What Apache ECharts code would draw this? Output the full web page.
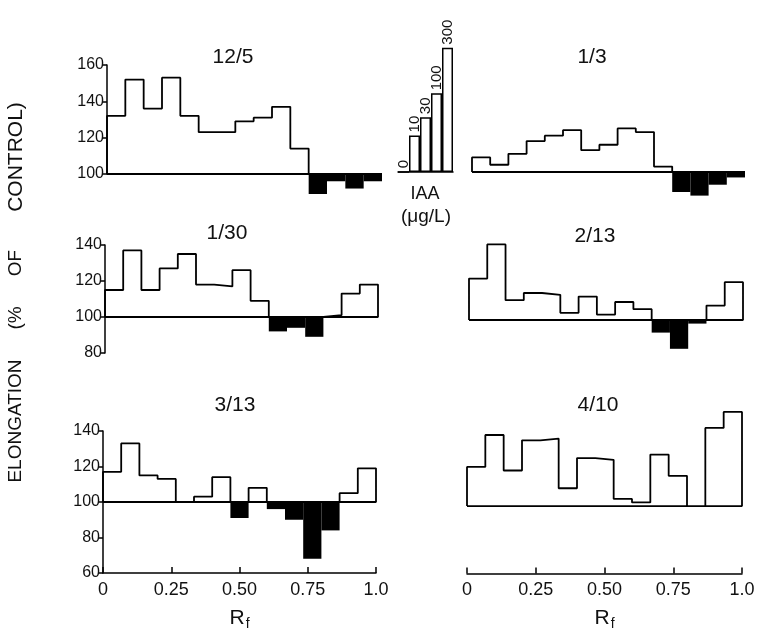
<!DOCTYPE html>
<html>
<head>
<meta charset="utf-8">
<script src="https://cdn.jsdelivr.net/npm/echarts@6/dist/echarts.min.js"></script>
<style>
html, body { margin: 0; padding: 0; background: #fff; }
#chart { width: 759px; height: 638px; }
</style>
</head>
<body>
<div id="chart"></div>
<script>
// elongation (% of control) for 15 equal Rf zones, 0 -> 1.0
var elong_12_5 = [132, 152, 136, 153, 132, 123, 123, 129, 131, 137, 114, 89, 96, 92, 96];
var elong_1_3  = [108, 104, 110, 117, 120, 123, 112, 115, 124, 122, 103, 89, 87, 93, 97];
var elong_1_30 = [115, 137, 115, 127, 135, 118, 117, 126, 109, 92, 94, 89, 101, 113, 118];
var elong_2_13 = [123, 142, 111, 115, 114, 104, 113, 103, 110, 106, 93, 84, 98, 108, 121];
var elong_3_13 = [117, 133, 115, 113, 100, 103, 114, 91, 108, 96, 90, 68, 84, 105, 119];
var elong_4_10 = [122, 140, 120, 137, 138, 110, 127, 126, 104, 102, 129, 117, 100, 144, 153];

var panelTitles = ['12/5', '1/3', '1/30', '2/13', '3/13', '4/10'];
var rfTicks = ['0', '0.25', '0.50', '0.75', '1.0'];

// IAA standard curve inset
var iaaDoses = ['0', '10', '30', '100', '300'];
var iaaElong = [100, 120, 130, 143, 168];

var FONT = 'Liberation Sans';
var chart = echarts.init(document.getElementById('chart'));

var panels = [
    { data: elong_12_5, grid: { left: 107, top: 65, width: 275, height: 109 }, min: 100, max: 160, yShow: true, xShow: false, title: [233, 57] },
    { data: elong_1_3, grid: { left: 472, top: 63, width: 273, height: 109 }, min: 100, max: 160, yShow: false, xShow: false, title: [592, 57] },
    { data: elong_1_30, grid: { left: 105, top: 245, width: 273, height: 108 }, min: 80, max: 140, yShow: true, xShow: false, title: [227, 233] },
    { data: elong_2_13, grid: { left: 469, top: 248, width: 274, height: 108 }, min: 80, max: 140, yShow: false, xShow: false, title: [595, 236] },
    { data: elong_3_13, grid: { left: 103, top: 431, width: 273, height: 142 }, min: 60, max: 140, yShow: true, xShow: true, title: [235, 405] },
    { data: elong_4_10, grid: { left: 467, top: 435, width: 275, height: 138.5 }, min: 62, max: 140, yShow: false, xShow: true, title: [598, 405] }
];

var grids = [], xAxes = [], yAxes = [], series = [], graphics = [];

panels.forEach(function (p, i) {
    var n = p.data.length;
    grids.push(p.grid);
    xAxes.push({
        type: 'value', gridIndex: i, min: 0, max: 1, interval: 0.25,
        show: p.xShow,
        axisLine: { lineStyle: { color: '#000', width: 1.5 } },
        axisTick: { inside: true, length: 6, lineStyle: { color: '#000', width: 1.5 } },
        axisLabel: {
            fontFamily: FONT, fontSize: 18, color: '#111', margin: 8,
            formatter: function (v) { return rfTicks[Math.round(v / 0.25)]; }
        },
        splitLine: { show: false },
        name: 'R{s|f}', nameLocation: 'middle', nameGap: 32,
        nameTextStyle: {
            fontFamily: FONT, fontSize: 21, color: '#111',
            rich: { s: { fontFamily: FONT, fontSize: 14, color: '#111', padding: [12, 0, 0, 1] } }
        }
    });
    yAxes.push({
        type: 'value', gridIndex: i, min: p.min, max: p.max, interval: 20,
        show: p.yShow,
        axisLine: { show: true, lineStyle: { color: '#000', width: 1.5 } },
        axisTick: { show: true, length: 4, lineStyle: { color: '#000', width: 1.5 } },
        axisLabel: { fontFamily: FONT, fontSize: 16, color: '#111', margin: 3 },
        splitLine: { show: false }
    });

    // outline of the positive part, closed along the 100% baseline
    var pts = [[0, 100]];
    var neg = [];
    p.data.forEach(function (v, k) {
        var x0 = k / n, x1 = (k + 1) / n;
        var top = Math.max(v, 100);
        pts.push([x0, top], [x1, top]);
        if (v < 100) neg.push([x0, x1, v]);
    });
    pts.push([1, 100], [0, 100]);

    series.push({
        type: 'line', xAxisIndex: i, yAxisIndex: i, data: pts,
        showSymbol: false, symbol: 'none', clip: false, silent: true,
        lineStyle: { color: '#000', width: 1.8 }
    });
    series.push({
        type: 'custom', xAxisIndex: i, yAxisIndex: i, data: neg, clip: false,
        encode: { x: [0, 1], y: 2 },
        renderItem: function (params, api) {
            var a = api.coord([api.value(0), 100]);
            var b = api.coord([api.value(1), api.value(2)]);
            return {
                type: 'rect',
                shape: { x: a[0], y: Math.min(a[1], b[1]), width: b[0] - a[0], height: Math.abs(b[1] - a[1]) },
                style: { fill: '#000' }
            };
        }
    });

    graphics.push({
        type: 'text', x: p.title[0], y: p.title[1],
        style: { text: panelTitles[i], fontFamily: FONT, fontSize: 21, fill: '#111', align: 'center', verticalAlign: 'middle' }
    });
});

// inset: IAA dose response, bars measured up from the 100% level
var gi = panels.length;
grids.push({ left: 398, top: 44, width: 55, height: 128 });
xAxes.push({
    type: 'category', gridIndex: gi, data: iaaDoses,
    axisLine: { lineStyle: { color: '#000', width: 1.5 } },
    axisTick: { show: false }, axisLabel: { show: false }
});
yAxes.push({ type: 'value', gridIndex: gi, min: 0, max: 70, show: false, splitLine: { show: false } });
series.push({
    type: 'bar', xAxisIndex: gi, yAxisIndex: gi,
    data: iaaElong.map(function (v) { return v - 100; }),
    barCategoryGap: '0%',
    itemStyle: { color: '#fff', borderColor: '#000', borderWidth: 1.5 },
    label: {
        show: true, position: 'top', rotate: 90, align: 'left', verticalAlign: 'middle', distance: 3,
        fontFamily: FONT, fontSize: 15, color: '#111',
        formatter: function (d) { return iaaDoses[d.dataIndex]; }
    }
});

graphics.push(
    { type: 'text', x: 425, y: 194, style: { text: 'IAA', fontFamily: FONT, fontSize: 18, fill: '#111', align: 'center', verticalAlign: 'middle' } },
    { type: 'text', x: 426, y: 217, style: { text: '(\u03bcg/L)', fontFamily: FONT, fontSize: 19, fill: '#111', align: 'center', verticalAlign: 'middle' } }
);

// vertical axis title, word by word
var yNameWords = [['ELONGATION', 421, 19], ['(%', 318, 19], ['OF', 263, 19], ['CONTROL)', 157, 21]];
yNameWords.forEach(function (w) {
    graphics.push({
        type: 'text', x: 16, y: w[1], rotation: Math.PI / 2,
        style: { text: w[0], fontFamily: FONT, fontSize: w[2], fill: '#111', align: 'center', verticalAlign: 'middle' }
    });
});

chart.setOption({
    backgroundColor: '#fff',
    animation: false,
    grid: grids,
    xAxis: xAxes,
    yAxis: yAxes,
    series: series,
    graphic: graphics
});
</script>
</body>
</html>
